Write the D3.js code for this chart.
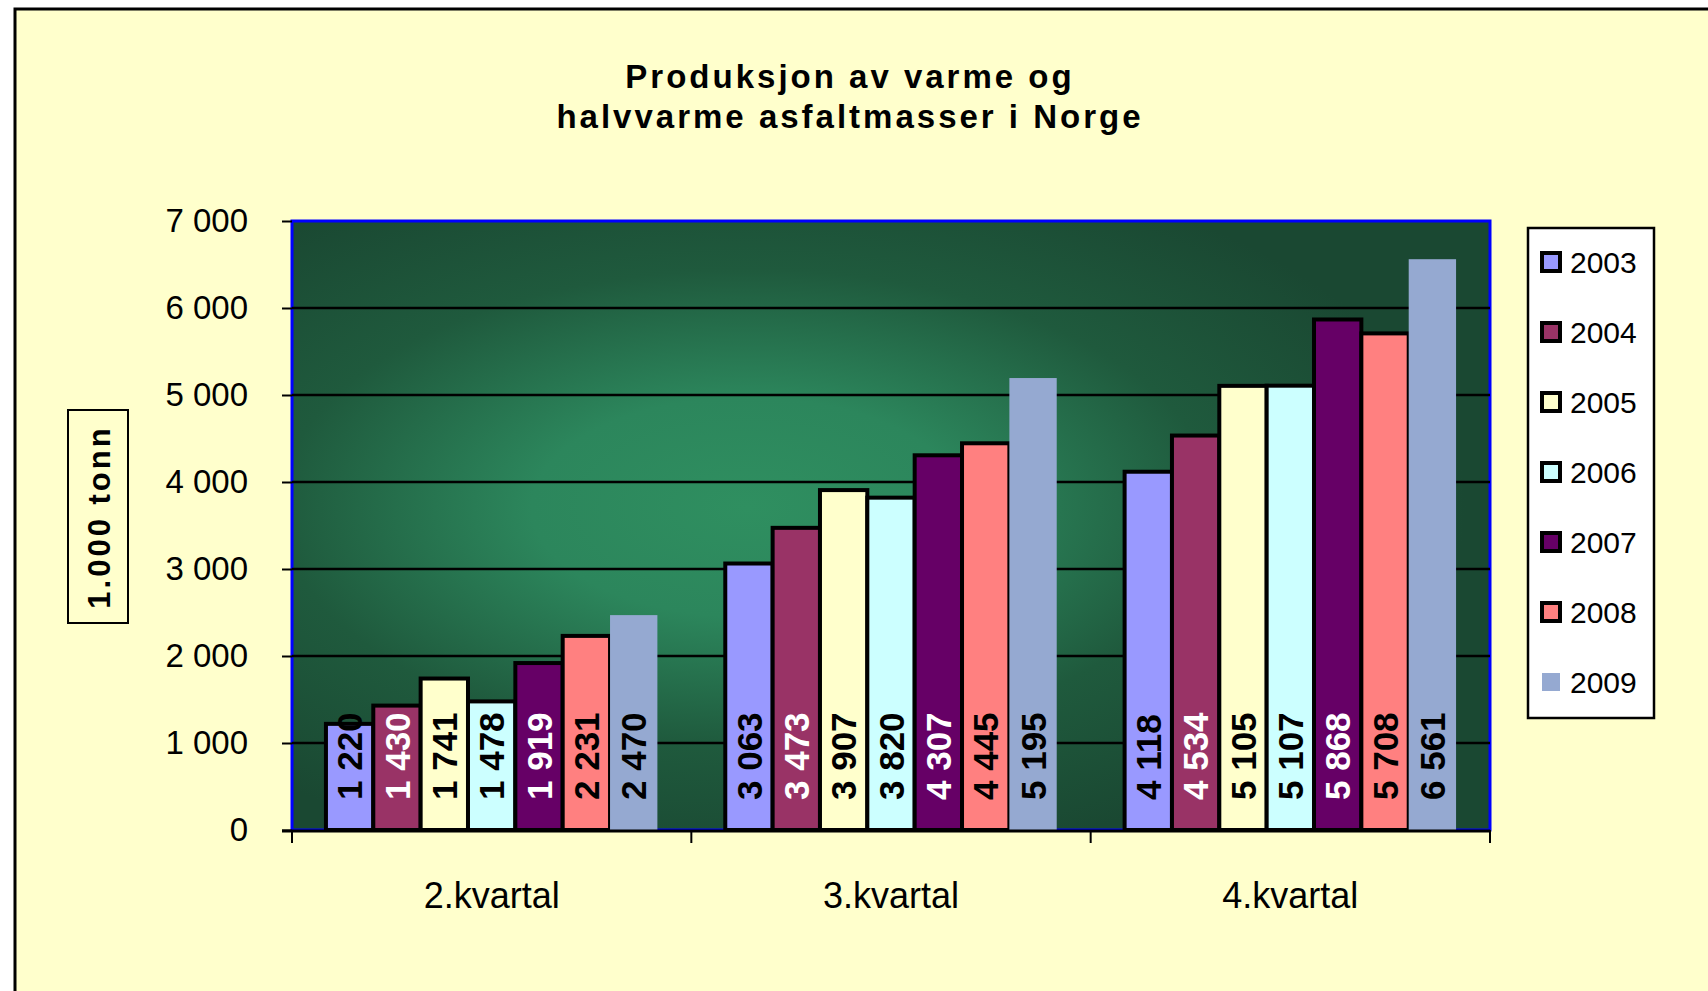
<!DOCTYPE html>
<html>
<head>
<meta charset="utf-8">
<script src="https://cdn.jsdelivr.net/npm/d3@7"></script>
<style>
  body { margin: 0; background: #fff; overflow: hidden; }
  text { font-family: Arial, "Liberation Sans", sans-serif; }
</style>
</head>
<body>
<div id="chart"></div>
<script>
// data (1 000 tonn)
const categories = ["2.kvartal", "3.kvartal", "4.kvartal"];
const years = ["2003", "2004", "2005", "2006", "2007", "2008", "2009"];
const v2003 = [1220, 3063, 4118];
const v2004 = [1430, 3473, 4534];
const v2005 = [1741, 3907, 5105];
const v2006 = [1478, 3820, 5107];
const v2007 = [1919, 4307, 5868];
const v2008 = [2231, 4445, 5708];
const v2009 = [2470, 5195, 6561];
const yTicks = [0, 1000, 2000, 3000, 4000, 5000, 6000, 7000];

const series = [v2003, v2004, v2005, v2006, v2007, v2008, v2009];
const colors = ["#9999FF", "#993366", "#FFFFCC", "#CCFFFF", "#660066", "#FF8080", "#95A9D1"];
const labelColors = ["#000", "#fff", "#000", "#000", "#fff", "#000", "#000"];

const width = 1708, height = 991;
const margin = {top: 221, right: 218, bottom: 161, left: 292};
const w = width - margin.left - margin.right;
const h = height - margin.top - margin.bottom;

const fmt = d3.formatLocale({decimal: ",", thousands: " ", grouping: [3], currency: ["", ""]}).format(",d");

var svg = d3.select("#chart")
    .append("svg")
    .attr("width", width)
    .attr("height", height);

// outer frame
svg.append("rect")
    .attr("x", 15).attr("y", 9)
    .attr("width", width).attr("height", height)
    .attr("fill", "#FFFFCC")
    .attr("stroke", "#000")
    .attr("stroke-width", 3);

// plot background gradient
var grad = svg.append("defs").append("radialGradient")
    .attr("id", "plotbg")
    .attr("cx", 0.38).attr("cy", 0.47).attr("r", 0.6);
grad.append("stop").attr("offset", 0).attr("stop-color", "#2F8F60");
grad.append("stop").attr("offset", 0.3).attr("stop-color", "#2C865C");
grad.append("stop").attr("offset", 0.65).attr("stop-color", "#1F5A3D");
grad.append("stop").attr("offset", 1).attr("stop-color", "#1A4832");

// title
var title = svg.append("text")
    .attr("text-anchor", "middle")
    .style("font-size", "33px")
    .style("font-weight", "bold")
    .style("letter-spacing", "3px");
title.append("tspan").attr("x", 850).attr("y", 88).text("Produksjon av varme og");
title.append("tspan").attr("x", 850).attr("y", 128).text("halvvarme asfaltmasser i Norge");

var g = svg.append("g")
    .attr("transform", "translate(" + margin.left + "," + margin.top + ")");

// scales
var x0 = d3.scaleBand().domain(categories).range([0, w])
    .paddingInner(0.17).paddingOuter(0.085);
var x1 = d3.scaleBand().domain(years).range([0, x0.bandwidth()]);
var y = d3.scaleLinear().domain([0, 7000]).range([h, 0]);

// plot area
g.append("rect")
    .attr("width", w).attr("height", h)
    .attr("fill", "url(#plotbg)")
    .attr("stroke", "#0000FF")
    .attr("stroke-width", 3);

// gridlines
g.append("g")
    .selectAll("line")
    .data(yTicks.filter(d => d > 0 && d < 7000))
    .enter()
    .append("line")
    .attr("x1", 0).attr("x2", w)
    .attr("y1", d => y(d)).attr("y2", d => y(d))
    .attr("stroke", "#000")
    .attr("stroke-width", 2.5);

// bars
var groups = g.append("g")
    .selectAll("g")
    .data(categories)
    .enter()
    .append("g")
    .attr("transform", d => "translate(" + x0(d) + ",0)");

groups.selectAll("rect")
    .data((c, ci) => years.map((yr, i) => ({year: yr, i: i, value: series[i][ci]})))
    .enter()
    .append("rect")
    .attr("x", d => x1(d.year))
    .attr("y", d => y(d.value))
    .attr("width", x1.bandwidth())
    .attr("height", d => h - y(d.value))
    .attr("fill", d => colors[d.i])
    .attr("stroke", d => d.year === "2009" ? "none" : "#000")
    .attr("stroke-width", 4);

// value labels
groups.selectAll("text")
    .data((c, ci) => years.map((yr, i) => ({year: yr, i: i, value: series[i][ci]})))
    .enter()
    .append("text")
    .attr("transform", d => "translate(" + (x1(d.year) + x1.bandwidth() / 2) + "," + (h - 30) + ") rotate(-90)")
    .attr("dy", "0.36em")
    .style("font-size", "35px")
    .style("font-weight", "bold")
    .attr("fill", d => labelColors[d.i])
    .text(d => fmt(d.value));

// y axis
var yAxis = g.append("g")
    .call(d3.axisLeft(y).tickValues(yTicks).tickFormat(fmt).tickSize(10).tickPadding(34));
yAxis.select(".domain").remove();
yAxis.selectAll("line").attr("stroke", "#000").attr("stroke-width", 2);
yAxis.selectAll("text").style("font-size", "33px").attr("fill", "#000");

// x axis
g.append("line")
    .attr("x1", -10).attr("x2", w)
    .attr("y1", h + 1).attr("y2", h + 1)
    .attr("stroke", "#000")
    .attr("stroke-width", 3);

var xAxis = g.append("g")
    .attr("transform", "translate(0," + h + ")")
    .call(d3.axisBottom(x0).tickSize(0).tickPadding(52));
xAxis.select(".domain").remove();
xAxis.selectAll("text").style("font-size", "36px").attr("fill", "#000");

g.append("g")
    .selectAll("line")
    .data(d3.range(categories.length + 1))
    .enter()
    .append("line")
    .attr("x1", d => d * x0.step()).attr("x2", d => d * x0.step())
    .attr("y1", h).attr("y2", h + 13)
    .attr("stroke", "#000")
    .attr("stroke-width", 2);

// y axis title
svg.append("rect")
    .attr("x", 68).attr("y", 410)
    .attr("width", 60).attr("height", 213)
    .attr("fill", "none")
    .attr("stroke", "#000")
    .attr("stroke-width", 2);
svg.append("text")
    .attr("transform", "translate(99,517) rotate(-90)")
    .attr("text-anchor", "middle")
    .attr("dy", "0.36em")
    .style("font-size", "31px")
    .style("font-weight", "bold")
    .style("letter-spacing", "3px")
    .text("1.000 tonn");

// legend
svg.append("rect")
    .attr("x", 1528).attr("y", 228)
    .attr("width", 126).attr("height", 490)
    .attr("fill", "#fff")
    .attr("stroke", "#000")
    .attr("stroke-width", 2.5);

var ly = d3.scalePoint().domain(years).range([262, 682]);
var items = svg.append("g")
    .selectAll("g")
    .data(years)
    .enter()
    .append("g")
    .attr("transform", d => "translate(1551," + ly(d) + ")");

items.append("rect")
    .attr("x", -9).attr("y", -9)
    .attr("width", 18).attr("height", 18)
    .attr("fill", (d, i) => colors[i])
    .attr("stroke", d => d === "2009" ? "none" : "#000")
    .attr("stroke-width", 4);

items.append("text")
    .attr("x", 19)
    .attr("dy", "0.36em")
    .style("font-size", "30px")
    .text(d => d);
</script>
</body>
</html>
